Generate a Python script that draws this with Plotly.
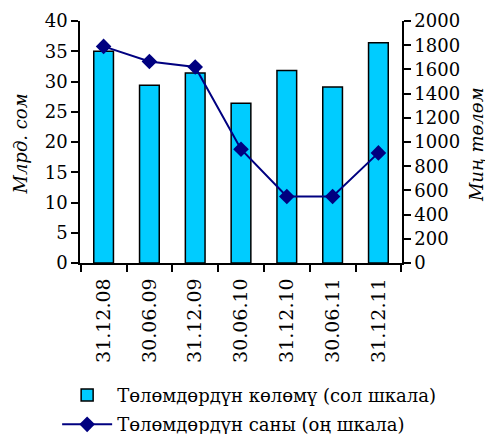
import plotly.graph_objects as go

categories = ["31.12.08", "30.06.09", "31.12.09", "30.06.10", "31.12.10", "30.06.11", "31.12.11"]
volume_bln_som = [35.0, 29.4, 31.4, 26.4, 31.8, 29.1, 36.4]
count_thousand = [1790, 1665, 1620, 940, 550, 550, 910]

name_volume = "Төлөмдөрдүн көлөмү (сол шкала)"
name_count = "Төлөмдөрдүн саны (оң шкала)"
left_title = "Млрд. сом"
right_title = "Миң төлөм"

FONT = "DejaVu Serif"

fig = go.Figure()
fig.add_trace(go.Bar(
    x=categories, y=volume_bln_som, name=name_volume,
    marker=dict(color="#00CCFF", line=dict(color="#000000", width=1.5)),
    width=0.43, yaxis="y", legendgroup="a",
))
fig.add_trace(go.Scatter(
    x=categories, y=count_thousand, name=name_count, mode="lines+markers",
    line=dict(color="#000080", width=2),
    marker=dict(symbol="diamond", size=12, color="#000080"),
    yaxis="y2", legendgroup="b",
))

fig.update_layout(
    width=485, height=426,
    margin=dict(l=72, r=91, t=13, b=171, autoexpand=False),
    paper_bgcolor="white", plot_bgcolor="white",
    font=dict(family=FONT, size=18, color="#000000"),
    showlegend=True,
    legend=dict(
        orientation="v", x=-0.071, y=-0.47, xanchor="left", yanchor="top",
        font=dict(family=FONT, size=18), itemwidth=50,
        traceorder="grouped", tracegroupgap=3, bgcolor="rgba(0,0,0,0)",
    ),
    xaxis=dict(
        type="category", tickangle=-90, tickson="boundaries",
        ticks="outside", ticklen=7, tickwidth=1.5, tickcolor="black",
        showline=True, linecolor="black", linewidth=1.5,
        showgrid=False, tickfont=dict(family=FONT, size=19), automargin=False,
        ticklabelstandoff=6,
    ),
    yaxis=dict(
        range=[0, 40], dtick=5, ticks="outside", ticklen=7, tickwidth=1.5,
        tickcolor="black", showline=True, linecolor="black", linewidth=1.5,
        showgrid=False, zeroline=False, automargin=False,
        tickfont=dict(family=FONT, size=18),
    ),
    yaxis2=dict(
        range=[0, 2000], dtick=200, overlaying="y", side="right",
        ticks="outside", ticklen=7, tickwidth=1.5, tickcolor="black",
        showline=True, linecolor="black", linewidth=1.5,
        showgrid=False, zeroline=False, automargin=False,
        tickfont=dict(family=FONT, size=18),
    ),
    bargap=0.57,
    annotations=[
        dict(text=left_title, xref="paper", yref="paper", x=-0.186, y=0.49,
             textangle=-90, showarrow=False, xanchor="center", yanchor="middle",
             font=dict(family=FONT, size=18, style="italic")),
        dict(text=right_title, xref="paper", yref="paper", x=1.232, y=0.49,
             textangle=-90, showarrow=False, xanchor="center", yanchor="middle",
             font=dict(family=FONT, size=18, style="italic")),
    ],
)

fig.write_html("out.html")
